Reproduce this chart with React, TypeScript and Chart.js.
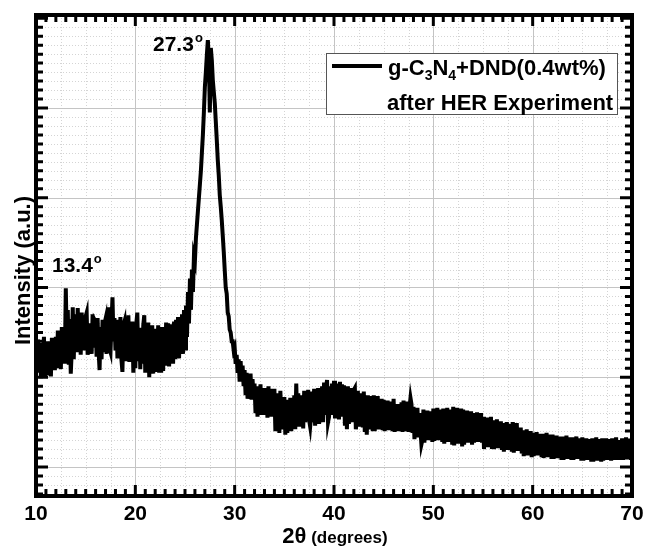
import React, { useEffect, useRef } from "react";
import { Chart, registerables } from "chart.js";

Chart.register(...registerables);

// 2-theta sampling of the pattern (degrees)
const ANGLE_START = 10;
const ANGLE_STEP = 0.1;

// Intensity (a.u.), 0.1 degree steps
const int10to20 = [
  2300, 2050, 2420, 2120, 2380, 1990, 2300, 2100, 2450, 2000,
  2350, 2020, 2400, 2150, 2300, 2010, 2440, 2120, 2380, 2080,
  2450, 2100, 2520, 2180, 2400, 2090, 2560, 2200, 2480, 2150,
  2990, 2400, 2750, 2140, 2650, 2040, 2300, 2780, 2200, 2600,
  2700, 2280, 2770, 2380, 2650, 2250, 2720, 2350, 2600, 2300,
  2680, 2720, 2250, 2600, 2350, 2600, 2260, 2700, 2330, 2640,
  2620, 2230, 2660, 2300, 2080, 2560, 2200, 2640, 2280, 2600,
  2650, 2260, 2700, 2780, 2320, 2280, 2600, 2890, 2400, 2660,
  2300, 2640, 2210, 2600, 2250, 2670, 2200, 2060, 2580, 2620,
  2180, 2640, 2250, 2690, 2170, 2560, 2230, 2620, 2050, 2600,
];
const int20to30 = [
  2100, 2600, 2720, 2180, 2550, 2090, 2500, 2150, 2580, 2690,
  2050, 2560, 2120, 2610, 2000, 2500, 2100, 2580, 2040, 2520,
  2060, 2540, 2130, 2580, 2050, 2480, 2050, 2560, 2070, 2520,
  2130, 2610, 2200, 2600, 2120, 2520, 2180, 2590, 2150, 2620,
  2200, 2640, 2280, 2670, 2210, 2600, 2300, 2700, 2260, 2750,
  2320, 2800, 2450, 2950, 2600, 3100, 2750, 3200, 2950, 3350,
  3300, 3550, 3700, 3850, 4000, 4150, 4300, 4500, 4700, 4950,
  5233, 5400, 5590, 5757, 5550, 4950, 5668, 5534, 5311, 5180,
  5055, 4850, 4643, 4420, 4250, 4030, 3900, 3752, 3580, 3400,
  3195, 3000, 2930, 2720, 2680, 2530, 2500, 2400, 2400, 2300,
];
const int30to40 = [
  2330, 2150, 2250, 2050, 2200, 1950, 2180, 1990, 2130, 1900,
  2080, 1800, 2050, 1760, 2000, 1850, 2040, 1750, 1980, 1800,
  1930, 1600, 1900, 1560, 1870, 1680, 1920, 1580, 1850, 1640,
  1880, 1580, 1850, 1550, 1900, 1620, 1870, 1560, 1820, 1600,
  1870, 1400, 1820, 1550, 1780, 1380, 1850, 1500, 1760, 1420,
  1780, 1360, 1750, 1380, 1700, 1520, 1770, 1400, 1720, 1480,
  1800, 1420, 1930, 1520, 1820, 1450, 1740, 1550, 1800, 1430,
  1850, 1500, 1800, 1560, 1860, 1520, 1450, 1580, 1840, 1500,
  1870, 1460, 1820, 1550, 1880, 1480, 1800, 1600, 1900, 1500,
  1940, 1580, 1880, 1970, 1500, 1560, 1900, 1650, 1930, 1580,
];
const int40to50 = [
  1960, 1540, 1900, 1620, 1930, 1530, 1950, 1640, 1920, 1560,
  1910, 1460, 1850, 1420, 1900, 1480, 1830, 1580, 1880, 1500,
  1860, 1880, 1420, 1530, 1850, 1450, 1780, 1550, 1820, 1440,
  1840, 1390, 1760, 1360, 1800, 1420, 1740, 1520, 1790, 1400,
  1800, 1400, 1740, 1490, 1790, 1420, 1720, 1500, 1760, 1410,
  1750, 1400, 1700, 1480, 1740, 1410, 1680, 1490, 1730, 1400,
  1760, 1390, 1660, 1470, 1700, 1400, 1650, 1480, 1720, 1390,
  1740, 1400, 1680, 1470, 1730, 1390, 1660, 1770, 1700, 1380,
  1670, 1310, 1620, 1400, 1660, 1330, 1600, 1420, 1250, 1300,
  1640, 1270, 1590, 1380, 1630, 1300, 1580, 1390, 1620, 1280,
];
const int50to60 = [
  1650, 1290, 1600, 1380, 1660, 1300, 1590, 1400, 1640, 1280,
  1650, 1260, 1600, 1370, 1660, 1280, 1590, 1390, 1640, 1250,
  1670, 1240, 1610, 1360, 1660, 1260, 1600, 1380, 1650, 1230,
  1640, 1250, 1580, 1350, 1630, 1270, 1570, 1370, 1620, 1250,
  1600, 1270, 1560, 1350, 1610, 1280, 1550, 1360, 1600, 1270,
  1560, 1200, 1510, 1300, 1550, 1220, 1500, 1320, 1560, 1200,
  1520, 1200, 1480, 1290, 1530, 1210, 1470, 1300, 1510, 1190,
  1490, 1170, 1450, 1270, 1500, 1190, 1440, 1280, 1480, 1170,
  1500, 1160, 1460, 1260, 1490, 1180, 1420, 1250, 1440, 1150,
  1410, 1120, 1380, 1200, 1420, 1130, 1360, 1210, 1400, 1110,
];
const int60to70 = [
  1380, 1120, 1340, 1200, 1390, 1130, 1330, 1210, 1370, 1110,
  1370, 1100, 1330, 1190, 1380, 1110, 1320, 1200, 1360, 1090,
  1360, 1090, 1310, 1180, 1350, 1100, 1300, 1190, 1340, 1080,
  1340, 1080, 1300, 1170, 1350, 1090, 1290, 1180, 1330, 1080,
  1330, 1080, 1290, 1170, 1340, 1090, 1280, 1180, 1320, 1070,
  1330, 1070, 1280, 1160, 1320, 1080, 1270, 1170, 1310, 1060,
  1320, 1060, 1280, 1160, 1330, 1070, 1270, 1170, 1310, 1060,
  1320, 1070, 1280, 1160, 1320, 1080, 1270, 1170, 1310, 1070,
  1320, 1080, 1270, 1170, 1330, 1080, 1260, 1160, 1300, 1080,
  1320, 1080, 1280, 1170, 1330, 1090, 1270, 1170, 1310, 1080,
  1300,
];

const xTickValues = [10, 20, 30, 40, 50, 60, 70];
const xTickLabels = ["10", "20", "30", "40", "50", "60", "70"];
const yMajorValues = [1000, 2000, 3000, 4000, 5000];

const peakLabels = ["27.3", "13.4"];
const peakLabelAngles = [21.78, 11.61];
const peakLabelValues = [5634, 3172];

const seriesName = ["g-C", "3", "N", "4", "+DND(0.4wt%)"];
const seriesNote = "after HER Experiment";

const FONT = '"Liberation Sans", Arial, sans-serif';

const decorPlugin = {
  id: "decor",
  beforeDatasetsDraw(chart: any) {
    const { ctx, chartArea: a, scales } = chart;
    const x = scales.x;
    const y = scales.y;
    ctx.save();
    // minor dotted grid
    ctx.strokeStyle = "#d4d4d4";
    ctx.lineWidth = 1;
    ctx.setLineDash([1, 2]);
    for (let k = 0; k <= 24; k++) {
      const v = 10 + k * 2.5;
      if (v % 10 === 0) continue;
      const px = Math.round(x.getPixelForValue(v)) + 0.5;
      ctx.beginPath();
      ctx.moveTo(px, a.top);
      ctx.lineTo(px, a.bottom);
      ctx.stroke();
    }
    for (let k = 7; k <= 60; k++) {
      if (k % 10 === 0) continue;
      const py = Math.round(y.getPixelForValue(k * 100)) + 0.5;
      ctx.beginPath();
      ctx.moveTo(a.left, py);
      ctx.lineTo(a.right, py);
      ctx.stroke();
    }
    // major grid
    ctx.setLineDash([]);
    ctx.strokeStyle = "#c4c4c4";
    for (const v of xTickValues) {
      const px = Math.round(x.getPixelForValue(v)) + 0.5;
      ctx.beginPath();
      ctx.moveTo(px, a.top);
      ctx.lineTo(px, a.bottom);
      ctx.stroke();
    }
    for (const v of yMajorValues) {
      const py = Math.round(y.getPixelForValue(v)) + 0.5;
      ctx.beginPath();
      ctx.moveTo(a.left, py);
      ctx.lineTo(a.right, py);
      ctx.stroke();
    }
    ctx.restore();
  },
  afterDatasetsDraw(chart: any) {
    const { ctx, chartArea: a, scales } = chart;
    const x = scales.x;
    const y = scales.y;
    ctx.save();
    ctx.fillStyle = "#000";
    ctx.strokeStyle = "#000";
    // ticks (inward on all four sides)
    ctx.lineWidth = 3;
    for (let d = 10; d <= 70; d++) {
      const px = x.getPixelForValue(d);
      const len = d % 10 === 0 ? 11 : 7;
      ctx.beginPath();
      ctx.moveTo(px, a.bottom);
      ctx.lineTo(px, a.bottom - len);
      ctx.moveTo(px, a.top);
      ctx.lineTo(px, a.top + len);
      ctx.stroke();
    }
    for (let k = 7; k <= 60; k++) {
      const py = y.getPixelForValue(k * 100);
      const len = k % 10 === 0 ? 12 : 7;
      ctx.beginPath();
      ctx.moveTo(a.left, py);
      ctx.lineTo(a.left + len, py);
      ctx.moveTo(a.right, py);
      ctx.lineTo(a.right - len, py);
      ctx.stroke();
    }
    // frame
    ctx.lineWidth = 4;
    ctx.strokeRect(a.left, a.top, a.right - a.left, a.bottom - a.top);

    // x tick labels
    ctx.font = `bold 21px ${FONT}`;
    ctx.textAlign = "center";
    ctx.textBaseline = "alphabetic";
    xTickValues.forEach((v, i) => {
      ctx.fillText(xTickLabels[i], x.getPixelForValue(v), a.bottom + 24);
    });

    // x title
    const cx = (a.left + a.right) / 2 + 1;
    ctx.textAlign = "left";
    ctx.font = `bold 22px ${FONT}`;
    const w1 = ctx.measureText("2\u03b8").width;
    ctx.font = `bold 17px ${FONT}`;
    const w2 = ctx.measureText(" (degrees)").width;
    const sx = cx - (w1 + w2) / 2;
    ctx.font = `bold 22px ${FONT}`;
    ctx.fillText("2\u03b8", sx, a.bottom + 47);
    ctx.font = `bold 17px ${FONT}`;
    ctx.fillText(" (degrees)", sx + w1, a.bottom + 47);

    // y title
    ctx.save();
    ctx.translate(a.left - 6, (a.top + a.bottom) / 2 + 15);
    ctx.rotate(-Math.PI / 2);
    ctx.textAlign = "center";
    ctx.font = `bold 22px ${FONT}`;
    ctx.fillText("Intensity (a.u.)", 0, 0);
    ctx.restore();

    // peak labels
    peakLabels.forEach((t, i) => {
      const px = x.getPixelForValue(peakLabelAngles[i]);
      const py = y.getPixelForValue(peakLabelValues[i]);
      ctx.textAlign = "left";
      ctx.font = `bold 21px ${FONT}`;
      ctx.fillText(t, px, py);
      const w = ctx.measureText(t).width;
      ctx.font = `bold 13px ${FONT}`;
      ctx.fillText("o", px + w + 1, py - 9);
    });

    // legend box
    const lx = a.left + 290;
    const ly = a.top + 38;
    const lw = 291;
    const lh = 61;
    ctx.fillStyle = "#fff";
    ctx.fillRect(lx, ly, lw, lh);
    ctx.strokeStyle = "#555";
    ctx.lineWidth = 1;
    ctx.strokeRect(lx + 0.5, ly + 0.5, lw, lh);
    ctx.strokeStyle = "#000";
    ctx.lineWidth = 4;
    ctx.beginPath();
    ctx.moveTo(lx + 6, ly + 13);
    ctx.lineTo(lx + 56, ly + 13);
    ctx.stroke();
    ctx.fillStyle = "#000";
    let tx = lx + 62;
    const base1 = ly + 22;
    seriesName.forEach((part, i) => {
      const sub = i === 1 || i === 3;
      ctx.font = sub ? `bold 14px ${FONT}` : `bold 22px ${FONT}`;
      ctx.fillText(part, tx, sub ? base1 + 5 : base1);
      tx += ctx.measureText(part).width;
    });
    ctx.font = `bold 22px ${FONT}`;
    ctx.fillText(seriesNote, lx + 61, ly + 57);
    ctx.restore();
  },
};

export default function App() {
  const ref = useRef<HTMLCanvasElement | null>(null);
  useEffect(() => {
    document.body.style.margin = "0";
    const intensity = [
      ...int10to20,
      ...int20to30,
      ...int30to40,
      ...int40to50,
      ...int50to60,
      ...int60to70,
    ];
    const points = intensity.map((v, i) => ({
      x: +(ANGLE_START + i * ANGLE_STEP).toFixed(1),
      y: v,
    }));
    const chart = new Chart(ref.current as HTMLCanvasElement, {
      type: "line",
      data: {
        datasets: [
          {
            label: "g-C3N4+DND(0.4wt%) after HER Experiment",
            data: points,
            borderColor: "#000",
            borderWidth: 4,
            borderJoinStyle: "miter",
            pointRadius: 0,
            tension: 0,
            fill: false,
          },
        ],
      },
      options: {
        animation: false,
        responsive: false,
        devicePixelRatio: 1,
        layout: { padding: { left: 36, right: 13, top: 15, bottom: 50 } },
        plugins: { legend: { display: false }, tooltip: { enabled: false } },
        scales: {
          x: { type: "linear", min: 10, max: 70, display: false },
          y: { type: "linear", min: 677, max: 6036, display: false },
        },
      },
      plugins: [decorPlugin],
    });
    return () => chart.destroy();
  }, []);
  return (
    <canvas
      ref={ref}
      width={645}
      height={546}
      style={{ display: "block", width: 645, height: 546 }}
    />
  );
}
